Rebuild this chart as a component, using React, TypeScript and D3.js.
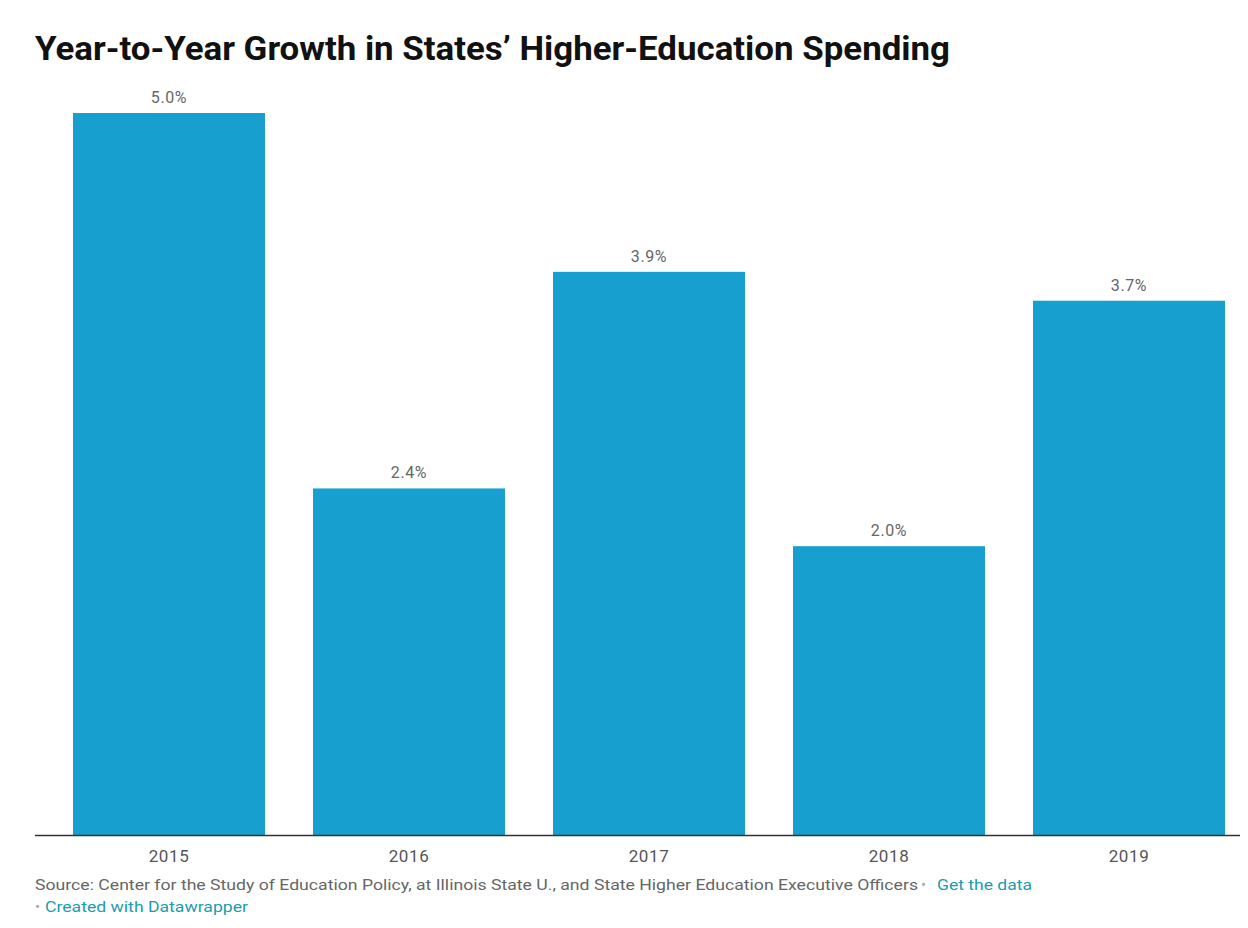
import React from "react";
import * as d3 from "d3";

const years = ["2015", "2016", "2017", "2018", "2019"];
const growth = [5.0, 2.4, 3.9, 2.0, 3.7];
const valueLabels = ["5.0%", "2.4%", "3.9%", "2.0%", "3.7%"];

const W = 1248;
const H = 928;

export default function App() {
  const x = d3.scaleBand<string>().domain(years).range([49, 1249]).paddingInner(0.2).paddingOuter(0.1);
  const y = d3.scaleLinear().domain([0, 5]).range([835, 113]);
  const font = "Roboto, 'Noto Sans', Arial, sans-serif";
  return (
    <svg width={W} height={H} style={{ position: "absolute", left: 0, top: 0, background: "#fff" }}>
      <text x={35} y={60} fontFamily={font} fontWeight={700} fontSize={33} fill="#111" textLength={915} lengthAdjust="spacingAndGlyphs">
        Year-to-Year Growth in States’ Higher-Education Spending
      </text>
      {years.map((yr, i) => (
        <g key={yr}>
          <rect x={x(yr)} y={y(growth[i])} width={x.bandwidth()} height={y(0) - y(growth[i])} fill="#179fcf" />
          <text x={(x(yr) as number) + x.bandwidth() / 2} y={y(growth[i]) - 10} textAnchor="middle" fontFamily={font} fontSize={16} letterSpacing={0.6} fill="#666">
            {valueLabels[i]}
          </text>
          <text x={(x(yr) as number) + x.bandwidth() / 2} y={862} textAnchor="middle" fontFamily={font} fontSize={17} letterSpacing={0.6} fill="#555">
            {yr}
          </text>
        </g>
      ))}
      <line x1={35} x2={1240} y1={835.5} y2={835.5} stroke="#333" strokeWidth={1.5} />
      <text x={35} y={890} fontFamily={font} fontSize={15} fill="#666" textLength={883} lengthAdjust="spacingAndGlyphs">
        Source: Center for the Study of Education Policy, at Illinois State U., and State Higher Education Executive Officers
      </text>
      <text x={921} y={890} fontFamily={font} fontSize={15} fill="#aaa">•</text>
      <text x={937} y={890} fontFamily={font} fontSize={15} fill="#1a9cb0" textLength={95} lengthAdjust="spacingAndGlyphs">Get the data</text>
      <text x={35} y={912} fontFamily={font} fontSize={15} fill="#aaa">•</text>
      <text x={45} y={912} fontFamily={font} fontSize={15} fill="#1a9cb0" textLength={203} lengthAdjust="spacingAndGlyphs">Created with Datawrapper</text>
    </svg>
  );
}
